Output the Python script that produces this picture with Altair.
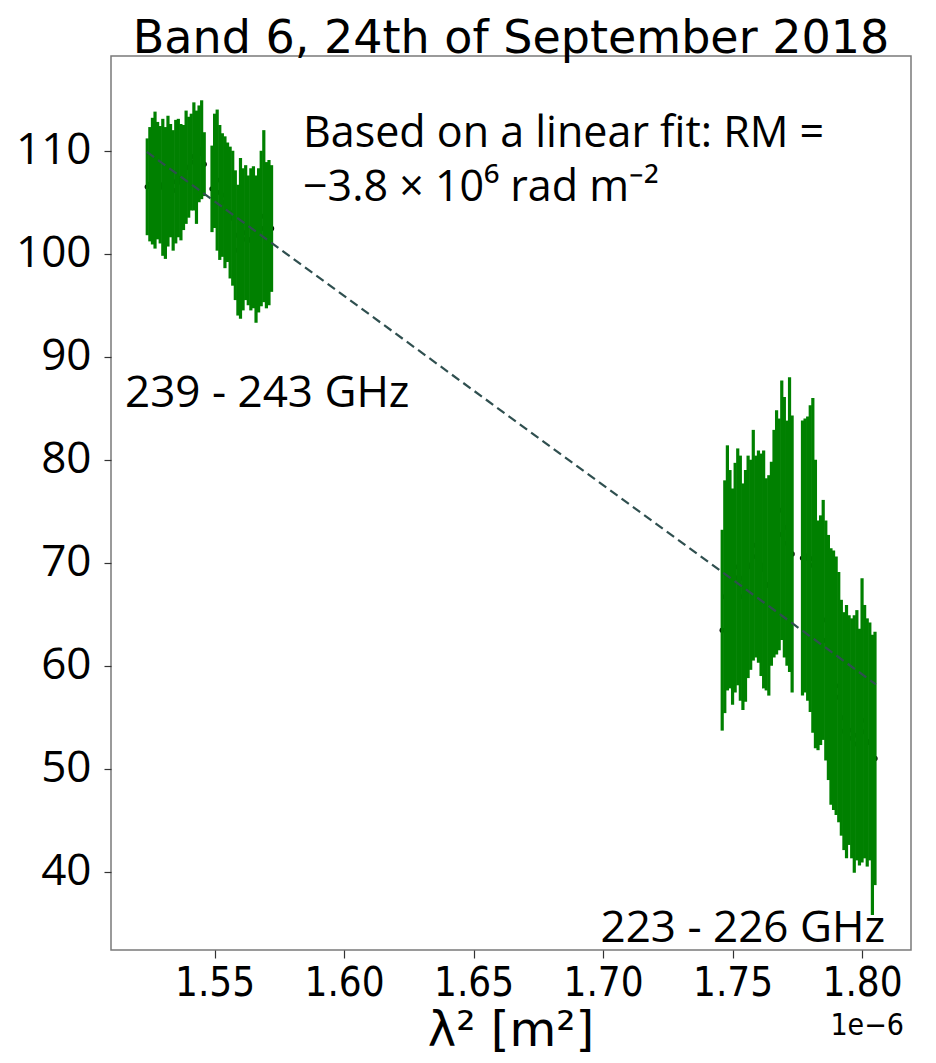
import altair as alt
import pandas as pd

# lambda^2 in units of 1e-6 m^2 ; polarisation angle (deg): lower / upper ends of error bars
lam2_1a = [1.524, 1.525, 1.526, 1.527, 1.528, 1.529, 1.530, 1.531, 1.532, 1.533, 1.534, 1.535,
           1.536, 1.537, 1.538, 1.539, 1.540, 1.541, 1.542, 1.543, 1.544, 1.545, 1.546]
hi_1a = [111.2, 112.3, 113.2, 113.8, 112.8, 112.4, 113.1, 112.3, 113.4, 112.6, 112.0, 113.0,
         113.1, 112.6, 112.5, 113.9, 113.3, 113.6, 114.7, 113.9, 114.4, 114.9, 111.8]
lo_1a = [101.8, 101.2, 100.9, 100.5, 101.4, 101.0, 99.8, 99.5, 100.7, 101.6, 100.3, 101.0,
         101.6, 101.3, 102.3, 102.9, 103.5, 104.2, 104.2, 102.9, 105.0, 105.3, 105.6]

lam2_1b = [1.549, 1.550, 1.551, 1.552, 1.553, 1.554, 1.555, 1.556, 1.557, 1.558, 1.559, 1.560,
           1.561, 1.562, 1.563, 1.564, 1.565, 1.566, 1.567, 1.568, 1.569, 1.570, 1.571, 1.572]
hi_1b = [110.5, 113.6, 114.0, 112.5, 111.7, 111.4, 110.8, 110.4, 110.0, 108.1, 106.7, 109.3,
         108.3, 108.6, 107.6, 108.3, 108.5, 107.6, 108.3, 110.0, 112.0, 108.9, 109.1, 108.6]
lo_1b = [102.1, 102.5, 100.3, 99.4, 99.7, 98.6, 99.2, 97.6, 96.9, 95.5, 94.0, 93.7,
         94.5, 95.5, 95.0, 94.5, 94.7, 93.3, 94.3, 94.9, 95.3, 94.7, 95.0, 96.3]

lam2_2a = [1.746, 1.747, 1.748, 1.749, 1.750, 1.751, 1.752, 1.753, 1.754, 1.755, 1.756, 1.757,
           1.758, 1.759, 1.760, 1.761, 1.762, 1.763, 1.764, 1.765, 1.766, 1.767, 1.768, 1.769,
           1.770, 1.771, 1.772, 1.773]
hi_2a = [73.2, 78.0, 81.4, 79.0, 77.2, 79.7, 81.1, 80.4, 77.7, 79.0, 80.4, 80.0,
         82.9, 80.4, 80.9, 80.6, 80.9, 78.2, 78.5, 79.8, 82.9, 84.8, 84.0, 87.7,
         86.1, 83.8, 88.0, 84.3]
lo_2a = [53.7, 55.4, 57.6, 57.8, 56.2, 57.4, 58.1, 56.6, 55.7, 56.5, 58.8, 59.6,
         60.5, 60.8, 60.3, 59.0, 57.8, 57.6, 57.1, 60.0, 60.8, 61.1, 61.5, 62.5,
         60.8, 60.0, 59.4, 57.4]

lam2_2b = [1.777, 1.778, 1.779, 1.780, 1.781, 1.782, 1.783, 1.784, 1.785, 1.786, 1.787, 1.788,
           1.789, 1.790, 1.791, 1.792, 1.793, 1.794, 1.795, 1.796, 1.797, 1.798, 1.799, 1.800,
           1.801, 1.802, 1.803, 1.804, 1.805]
hi_2b = [83.8, 84.0, 84.2, 85.3, 86.0, 80.0, 74.1, 74.6, 76.1, 74.1, 72.7, 71.4,
         71.2, 70.6, 69.1, 66.4, 65.2, 65.9, 64.9, 64.6, 64.9, 65.4, 63.6, 68.5,
         65.9, 64.6, 64.2, 63.0, 63.3]
lo_2b = [57.1, 57.4, 56.6, 55.5, 53.5, 52.0, 51.8, 52.3, 52.8, 50.8, 48.9, 46.5,
         46.0, 45.5, 44.8, 43.5, 42.1, 41.3, 42.6, 41.3, 39.9, 41.1, 40.6, 40.9,
         41.3, 40.5, 41.1, 35.8, 38.7]

fit_lam2 = [1.5238, 1.8053]
fit_chi = [109.9, 58.2]

x_ticks = [1.55, 1.60, 1.65, 1.70, 1.75, 1.80]
y_ticks = [40, 50, 60, 70, 80, 90, 100, 110]

rows = []
for xs, los, his in [(lam2_1a, lo_1a, hi_1a), (lam2_1b, lo_1b, hi_1b),
                     (lam2_2a, lo_2a, hi_2a), (lam2_2b, lo_2b, hi_2b)]:
    for x, lo, hi in zip(xs, los, his):
        rows.append({"lam2": x, "lo": lo, "hi": hi, "mid": (lo + hi) / 2})
df = pd.DataFrame(rows)
fit_df = pd.DataFrame({"lam2": fit_lam2, "chi": fit_chi})

xscale = alt.Scale(domain=[1.5100, 1.8189], nice=False, zero=False)
yscale = alt.Scale(domain=[32.4, 119.2], nice=False, zero=False)

xaxis = alt.Axis(title=None, values=x_ticks, format=".2f",
                 labelFont="DejaVu Sans Condensed, DejaVu Sans",
                 labelFontSize=40, labelColor="black", tickSize=8, tickColor="#333333",
                 tickWidth=1.2, domain=False, grid=False, labelPadding=5)
yaxis = alt.Axis(title=None, values=y_ticks, labelFont="Open Sans", labelFontSize=44,
                 labelColor="black", tickSize=7, tickColor="#333333", tickWidth=1.2,
                 domain=False, grid=False, labelPadding=13)

X = alt.X("lam2:Q", scale=xscale, axis=xaxis)

points = alt.Chart(df).mark_circle(color="black", size=28, opacity=1).encode(
    x=X, y=alt.Y("mid:Q", scale=yscale, axis=yaxis))
bars = alt.Chart(df).mark_rule(color="#008000", strokeWidth=3.2).encode(
    x=X, y=alt.Y("lo:Q", scale=yscale, axis=yaxis), y2="hi:Q")
fit = alt.Chart(fit_df).mark_line(color="#2F4F4F", strokeDash=[9, 5], strokeWidth=2.2).encode(
    x=X, y=alt.Y("chi:Q", scale=yscale, axis=yaxis))


def label(text, x, y, size, font="Open Sans", align="left"):
    return alt.Chart(pd.DataFrame({"t": [text]})).mark_text(
        font=font, fontSize=size, align=align, baseline="alphabetic", color="black"
    ).encode(x=alt.value(x), y=alt.value(y), text="t:N")


texts = [
    label("Band 6, 24th of September 2018", 400, -3, 46, font="DejaVu Sans", align="center"),
    label("Based on a linear fit: RM =", 192, 91, 43),
    label("\u22123.8 \u00d7 10\u2076 rad m\u207b\u00b2", 192, 145, 43),
    label("239 - 243 GHz", 14, 351, 44),
    label("223 - 226 GHz", 774, 886, 44, align="right"),
    label("\u03bb\u00b2 [m\u00b2]", 400, 990, 48, font="DejaVu Sans", align="center"),
    label("1e\u22126", 793, 979, 30, font="DejaVu Sans Condensed, DejaVu Sans", align="right"),
]

chart = alt.layer(points, bars, fit, *texts).properties(
    width=800, height=894,
    padding={"left": 111, "top": 56, "right": 25, "bottom": 113},
    autosize=alt.AutoSizeParams(type="none"),
    background="white",
).configure_view(stroke="#7a7a7a", strokeWidth=1.5)

chart.save("out.html", embed_options={"renderer": "svg", "actions": False})
